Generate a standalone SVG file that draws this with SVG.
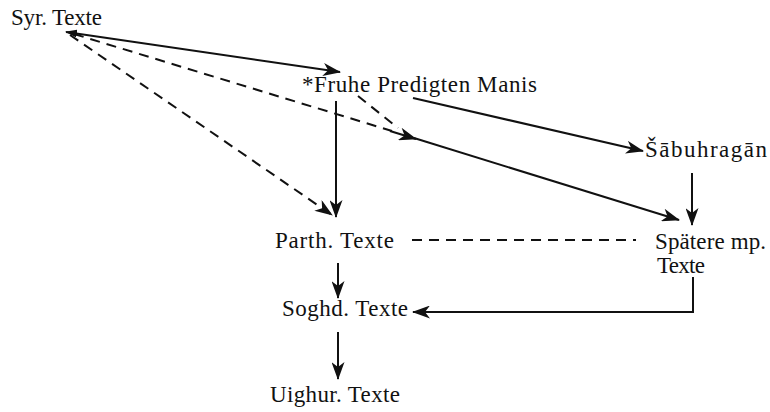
<svg xmlns="http://www.w3.org/2000/svg" width="770" height="412" viewBox="0 0 770 412">
<style>
text{font-family:"Liberation Serif","Times New Roman",serif;font-size:23px;fill:#111}
.s{fill:none;stroke:#111;stroke-width:2}
.d{fill:none;stroke:#111;stroke-width:2;stroke-dasharray:10 7}
</style>
<defs>
<marker id="ah" markerUnits="userSpaceOnUse" markerWidth="18" markerHeight="13" viewBox="0 0 18 13" refX="17" refY="6.5" orient="auto">
<path d="M0,0 L18,6.5 L0,13 L5,6.5 z" fill="#111"/>
</marker>
<marker id="ahs" markerUnits="userSpaceOnUse" markerWidth="12" markerHeight="8" viewBox="0 0 12 8" refX="1" refY="4" orient="auto">
<path d="M12,0 L0,4 L12,8 z" fill="#111"/>
</marker>
</defs>
<rect width="770" height="412" fill="#fff"/>
<g id="connectors">
<line class="s" x1="66" y1="32" x2="340" y2="72" marker-start="url(#ahs)" marker-end="url(#ah)"/>
<line class="d" x1="70" y1="35" x2="332" y2="215" marker-end="url(#ah)"/>
<line class="d" x1="74" y1="34" x2="392" y2="131"/>
<line class="d" x1="358" y1="96" x2="398" y2="128"/>
<line class="s" x1="390" y1="131" x2="416" y2="139" marker-end="url(#ah)"/>
<line class="s" x1="414" y1="138" x2="679" y2="220" marker-end="url(#ah)"/>
<line class="s" x1="336" y1="101" x2="336" y2="217" marker-end="url(#ah)"/>
<line class="s" x1="413" y1="98" x2="643" y2="151" marker-end="url(#ah)"/>
<line class="s" x1="692" y1="173" x2="692" y2="225" marker-end="url(#ah)"/>
<line class="d" x1="412" y1="240" x2="636" y2="240"/>
<line class="s" x1="338" y1="263" x2="338" y2="298" marker-end="url(#ah)"/>
<polyline class="s" points="693,277 693,312 413,312" marker-end="url(#ah)"/>
<line class="s" x1="338" y1="332" x2="338" y2="379" marker-end="url(#ah)"/>
</g>
<g id="syr"><text x="11" y="25" textLength="91">Syr. Texte</text></g>
<g id="fruhe"><text x="302" y="92" textLength="235">*Fruhe Predigten Manis</text></g>
<g id="sabuhragan"><text x="645" y="157" textLength="122">Šābuhragān</text></g>
<g id="parth"><text x="275" y="248" textLength="119">Parth. Texte</text></g>
<g id="spaetere"><text x="655" y="249" textLength="111">Spätere mp.</text><text x="657" y="273" textLength="48">Texte</text></g>
<g id="soghd"><text x="282" y="316" textLength="126">Soghd. Texte</text></g>
<g id="uighur"><text x="270" y="402" textLength="130">Uighur. Texte</text></g>
</svg>
